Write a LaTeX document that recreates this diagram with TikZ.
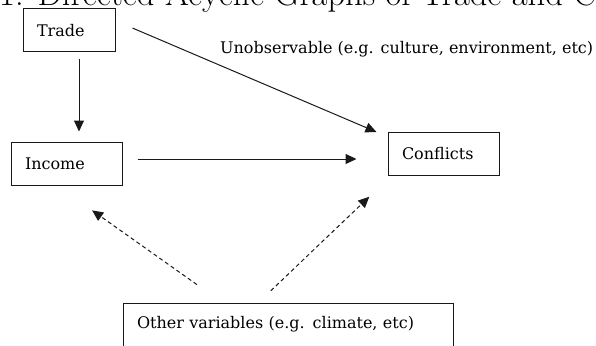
\documentclass[tikz,border=0pt]{standalone}
\usepackage{fontspec}
\newfontfamily\varfont{DejaVu Serif}
\usetikzlibrary{arrows.meta,positioning}

\tikzset{
  var/.style={draw=black!90, line width=1pt, font=\varfont\fontsize{16}{19}\selectfont,
    text width=#1, align=left, inner xsep=14pt, minimum height=43pt},
  causal/.style={->, line width=1pt, black!90},
  confound/.style={dash pattern=on 4pt off 3pt},
}

\begin{document}
\begin{tikzpicture}[x=1pt, y=1pt, on grid, >={Triangle[length=11pt,width=10pt]}]
	\useasboundingbox (0,0) rectangle (596,-345);
	\clip (0,0) rectangle (596,-345);
	\node [anchor=base west, inner sep=0pt, font=\fontsize{34.5}{40}\selectfont] (title) at (-1,-6) {1. Directed Acyclic Graphs of Trade and Conflicts};
	\node [var=64pt] (trade) at (69,-30.5) {Trade};
	\node [var=83pt, xshift=-2.5pt] (income) [below=133pt of trade] {Income};
	\node [var=83pt, yshift=9.5pt] (conflicts) [right=377pt of income] {Conflicts};
	\node [var=302pt, xshift=221.5pt] (other) [below=161pt of income] {Other variables (e.g. climate, etc)};
	\node [anchor=base west, inner sep=0pt, font=\varfont\fontsize{16}{19}\selectfont] (unobs) at (220,-53) {Unobservable (e.g. culture, environment, etc)};

	\path[causal]
		([xshift=10pt]trade.south) edge [shorten <=6pt, shorten >=10pt] ([xshift=12.5pt]income.north)
		([yshift=9.7pt]trade.east) edge [shorten <=18.5pt, shorten >=12pt] ([yshift=17.3pt]conflicts.west)
		([yshift=4.5pt]income.east) edge [shorten <=15pt, shorten >=31pt] ([yshift=-5pt]conflicts.west)
		([xshift=-65.8pt]other.north) edge [confound, shorten <=31pt, shorten >=43pt] ([xshift=-9.5pt]income.south)
		([xshift=-29.5pt]other.north) edge [confound, shorten <=17pt, shorten >=30pt] ([xshift=-52.5pt]conflicts.south)
		;
\end{tikzpicture}
\end{document}
